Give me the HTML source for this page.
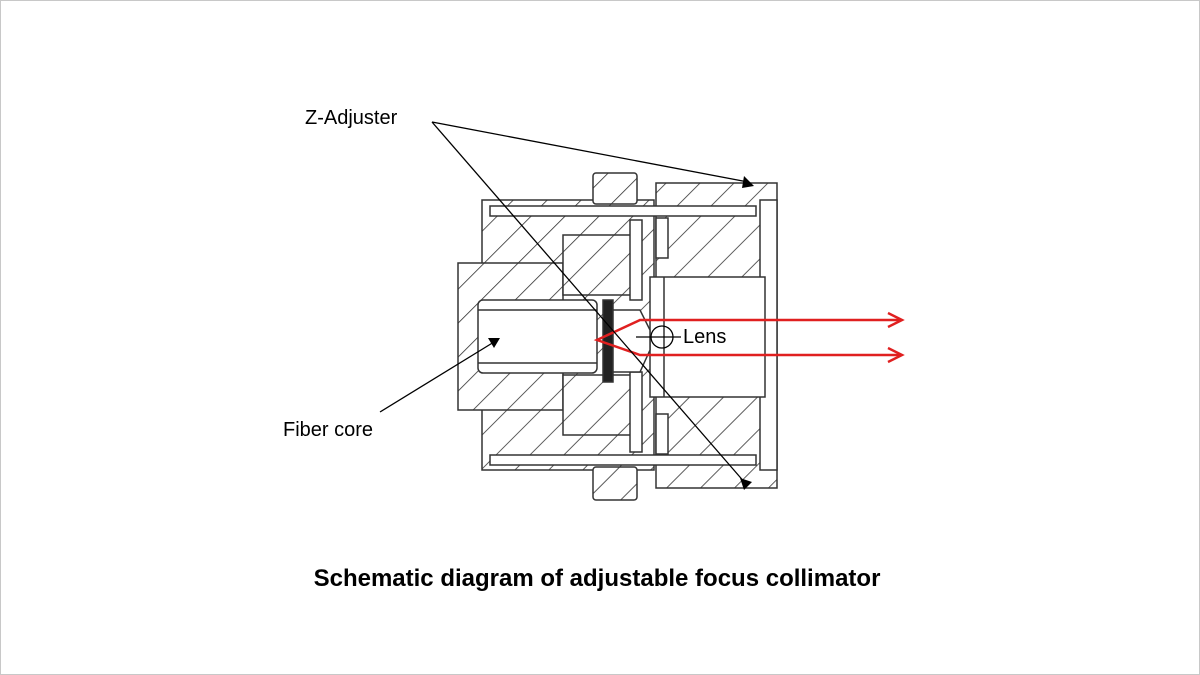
<!DOCTYPE html>
<html><head><style>
body{margin:0;background:#fff}
.w{position:relative;width:1198px;height:673px;border:1px solid #c8c8c8;overflow:hidden;background:#fff}
</style></head><body><div class="w">
<svg width="1198" height="673" viewBox="1 1 1198 673" style="position:absolute;left:0;top:0">
<defs>
<pattern id="h" patternUnits="userSpaceOnUse" width="24" height="24" patternTransform="rotate(45)">
<rect width="24" height="24" fill="#fff"/><line x1="0" y1="0" x2="0" y2="24" stroke="#333" stroke-width="1.6"/>
</pattern>
</defs>
<g stroke="#333" stroke-width="1.5">
<rect x="482" y="200" width="172" height="270" fill="url(#h)"/>
<rect x="656" y="183" width="121" height="305" fill="url(#h)"/>
<rect x="760" y="200" width="17" height="270" fill="#fff"/>
<rect x="458" y="263" width="105" height="147" fill="url(#h)"/>
<rect x="593" y="173" width="44" height="31" rx="3" fill="url(#h)"/>
<rect x="593" y="467" width="44" height="33" rx="3" fill="url(#h)"/>
<rect x="490" y="206" width="266" height="10" fill="#fff"/>
<rect x="490" y="455" width="266" height="10" fill="#fff"/>
<rect x="563" y="235" width="70" height="60" fill="url(#h)"/>
<rect x="563" y="375" width="70" height="60" fill="url(#h)"/>
<rect x="630" y="220" width="12" height="80" fill="#fff"/>
<rect x="630" y="372" width="12" height="80" fill="#fff"/>
<rect x="656" y="218" width="12" height="40" fill="#fff"/>
<rect x="656" y="414" width="12" height="40" fill="#fff"/>
<rect x="478" y="300" width="119" height="73" rx="5" fill="#fff"/>
<line x1="478" y1="310" x2="597" y2="310"/><line x1="478" y1="363" x2="597" y2="363"/>
<rect x="650" y="277" width="115" height="120" fill="#fff"/>
<line x1="664" y1="277" x2="664" y2="397"/>
<rect x="603" y="300" width="10" height="82" fill="#222"/>
<path d="M613 310 L640 310 L650 330 L650 350 L640 372 L613 372 Z" fill="#fff"/>
</g>
<g stroke="#e02020" stroke-width="2.5" fill="none">
<polyline points="900,320 640,320 597,340 640,355 900,355"/>
<polyline points="888,313 902,320 888,327"/>
<polyline points="888,348 902,355 888,362"/>
</g>
<g stroke="#000" stroke-width="1.3">
<line x1="432" y1="122" x2="748" y2="182"/>
<line x1="432" y1="122" x2="746" y2="484"/>
<line x1="380" y1="412" x2="494" y2="342"/>
<line x1="636" y1="337" x2="681" y2="337"/>
</g>
<circle cx="662" cy="337" r="11" fill="none" stroke="#000" stroke-width="1.3"/>
<polygon points="744,176 754,186 742,188" fill="#000"/>
<polygon points="740,478 752,482 744,490" fill="#000"/>
<polygon points="488,338 500,338 494,348" fill="#000"/>
<g font-family="Liberation Sans, sans-serif" font-size="20" fill="#000">
<text x="305" y="124">Z-Adjuster</text>
<text x="283" y="436">Fiber core</text>
<text x="683" y="343">Lens</text>
<text x="597" y="586" text-anchor="middle" font-weight="bold" font-size="24">Schematic diagram of adjustable focus collimator</text>
</g>
</svg>
</div></body></html>
